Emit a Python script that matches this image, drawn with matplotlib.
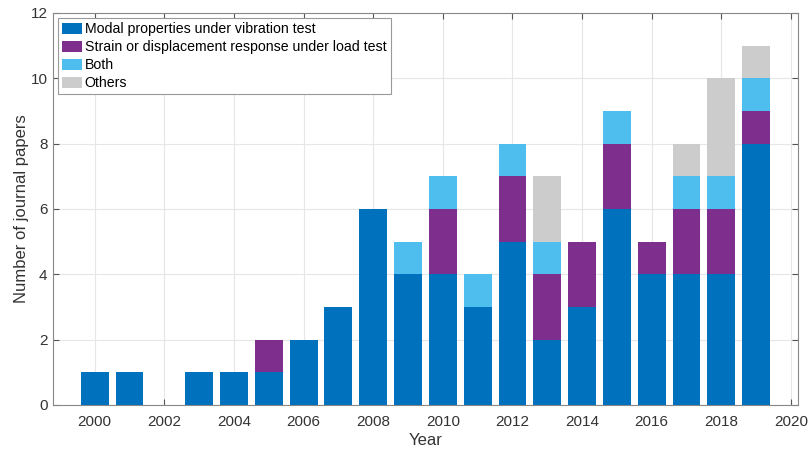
import numpy as np
import matplotlib.pyplot as plt

plt.rcParams['font.family'] = ['Liberation Sans', 'DejaVu Sans']

years = np.arange(2000, 2020)
modal = [1, 1, 0, 1, 1, 1, 2, 3, 6, 4, 4, 3, 5, 2, 3, 6, 4, 4, 4, 8]
strain = [0, 0, 0, 0, 0, 1, 0, 0, 0, 0, 2, 0, 2, 2, 2, 2, 1, 2, 2, 1]
both = [0, 0, 0, 0, 0, 0, 0, 0, 0, 1, 1, 1, 1, 1, 0, 1, 0, 1, 1, 1]
others = [0, 0, 0, 0, 0, 0, 0, 0, 0, 0, 0, 0, 0, 2, 0, 0, 0, 1, 3, 1]

labels = ['Modal properties under vibration test',
          'Strain or displacement response under load test',
          'Both', 'Others']
colors = ['#0072BD', '#7E2F8E', '#4DBEEE', '#CCCCCC']

fig = plt.figure(figsize=(8.1, 4.57), dpi=100)
ax = fig.add_axes([0.0654, 0.1138, 0.9196, 0.8578])

bottom = np.zeros(len(years))
for vals, lab, col in zip([modal, strain, both, others], labels, colors):
    vals = np.array(vals, dtype=float)
    ax.bar(years, vals, width=0.8, bottom=bottom, color=col, label=lab,
           edgecolor='none', zorder=3)
    bottom += vals

ax.set_xlim(1998.8, 2020.2)
ax.set_ylim(0, 12)
ax.set_xticks(np.arange(2000, 2021, 2))
ax.set_yticks(np.arange(0, 13, 2))
ax.grid(True, color='#e6e6e6', linewidth=0.8, zorder=0)
ax.tick_params(direction='in', top=True, right=True, length=4,
               color='#555555', labelcolor='#333333', labelsize=11)
ax.tick_params(axis='x', pad=7)
ax.tick_params(axis='y', pad=4)
for s in ax.spines.values():
    s.set_color('#888888')
    s.set_linewidth(0.8)

ax.set_xlabel('Year', fontsize=12, color='#333333', labelpad=3)
ax.set_ylabel('Number of journal papers', fontsize=12, color='#333333',
              labelpad=1)

leg = ax.legend(loc='upper left', fontsize=10.2, frameon=True, fancybox=False,
                edgecolor='#999999', framealpha=1, borderpad=0.3,
                handlelength=1.4, handleheight=0.85, handletextpad=0.2,
                labelspacing=0.28, borderaxespad=0.35)
leg.get_frame().set_linewidth(0.8)

fig.savefig('out.png', dpi=100)
